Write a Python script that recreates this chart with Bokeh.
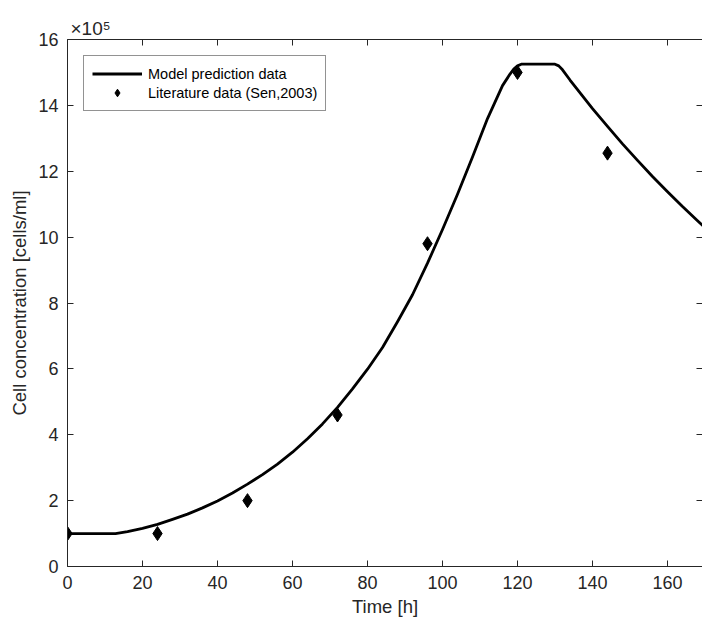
from bokeh.plotting import figure
from bokeh.models import (ColumnDataSource, Legend, LegendItem, LinearAxis, FixedTicker,
                          Range1d, Title)
from bokeh.embed import file_html
from bokeh.resources import INLINE

# ---- data (cell concentration in units of 1e5 cells/ml) ----
time_model = [0, 12.8, 16, 20, 24, 28, 32, 36, 40, 44, 48, 52, 56, 60, 64, 68, 72, 76, 80,
              84, 88, 92, 96, 100, 104, 108, 112, 114, 116, 118, 119, 120, 121, 130, 131,
              132, 134, 136, 138, 140, 144, 148, 152, 156, 160, 164, 168, 170]
conc_model = [1.0, 1.0, 1.06, 1.16, 1.28, 1.43, 1.59, 1.78, 1.99, 2.23, 2.5, 2.79, 3.11,
              3.47, 3.88, 4.33, 4.83, 5.39, 5.99, 6.65, 7.43, 8.25, 9.21, 10.23, 11.3,
              12.43, 13.6, 14.1, 14.6, 14.95, 15.1, 15.2, 15.25, 15.25, 15.2, 15.08, 14.77,
              14.48, 14.19, 13.9, 13.36, 12.83, 12.33, 11.84, 11.38, 10.93, 10.5, 10.29]

time_lit = [0, 24, 48, 72, 96, 120, 144]
conc_lit = [1.0, 1.0, 2.0, 4.6, 9.8, 15.0, 12.55]

x_ticks = [0, 20, 40, 60, 80, 100, 120, 140, 160]
y_ticks = [0, 2, 4, 6, 8, 10, 12, 14, 16]

FONT = "Liberation Sans"
AX = "#262626"

p = figure(width=702, height=622, output_backend="svg", toolbar_location=None,
           x_range=Range1d(0, 169.33), y_range=Range1d(0, 16),
           min_border_left=67, min_border_right=0, min_border_top=39, min_border_bottom=56,
           x_axis_label="Time [h]", y_axis_label="Cell concentration [cells/ml]")
p.outline_line_color = None
p.grid.visible = False
p.background_fill_color = "white"
p.border_fill_color = "white"

for ax, ticks in ((p.xaxis[0], x_ticks), (p.yaxis[0], y_ticks)):
    ax.ticker = FixedTicker(ticks=ticks)
    ax.major_tick_in = 6
    ax.major_tick_out = 0
    ax.minor_tick_line_color = None
    ax.axis_line_color = AX
    ax.major_tick_line_color = AX
    ax.major_label_text_color = AX
    ax.major_label_text_font = FONT
    ax.major_label_text_font_size = "18px"
    ax.axis_label_text_color = AX
    ax.axis_label_text_font = FONT
    ax.axis_label_text_font_size = "18.5px"
    ax.axis_label_text_font_style = "normal"
p.xaxis[0].major_label_standoff = 9
p.xaxis[0].axis_label_standoff = 4
p.yaxis[0].major_label_standoff = 9
p.yaxis[0].axis_label_standoff = 5

# top and right box edges with inward ticks
top = LinearAxis(ticker=FixedTicker(ticks=x_ticks), major_tick_in=6, major_tick_out=0,
                 minor_tick_line_color=None, axis_line_color=AX, major_tick_line_color=AX,
                 major_label_standoff=0,
                 major_label_overrides={t: "" for t in x_ticks})
right = LinearAxis(ticker=FixedTicker(ticks=y_ticks), major_tick_in=6, major_tick_out=0,
                   minor_tick_line_color=None, axis_line_color=None, major_tick_line_color=AX,
                   major_label_standoff=0,
                   major_label_overrides={t: "" for t in y_ticks})
p.add_layout(top, "above")
p.add_layout(right, "right")

p.add_layout(Title(text="×10⁵", align="left", offset=3, standoff=2, text_font=FONT,
                   text_font_size="19px", text_color=AX, text_font_style="normal"), "above")

model_src = ColumnDataSource(dict(t=time_model, c=conc_model))
lit_src = ColumnDataSource(dict(t=time_lit, c=conc_lit))

r_line = p.line("t", "c", source=model_src, line_color="black", line_width=2.8,
                line_join="round")
r_pts = p.scatter("t", "c", source=lit_src, marker="diamond", size=14,
                  fill_color="black", line_color="black")

legend = Legend(items=[LegendItem(label="Model prediction data", renderers=[r_line]),
                       LegendItem(label="Literature data (Sen,2003)", renderers=[r_pts])],
                location="top_left", margin=16, padding=8, spacing=0,
                glyph_width=50, glyph_height=19, label_height=19, label_standoff=6,
                label_text_font=FONT, label_text_font_size="14.5px", label_text_color="black",
                border_line_color=AX, border_line_width=1, background_fill_color="white")
p.add_layout(legend)

open("out.html", "w").write(file_html(p, INLINE))
